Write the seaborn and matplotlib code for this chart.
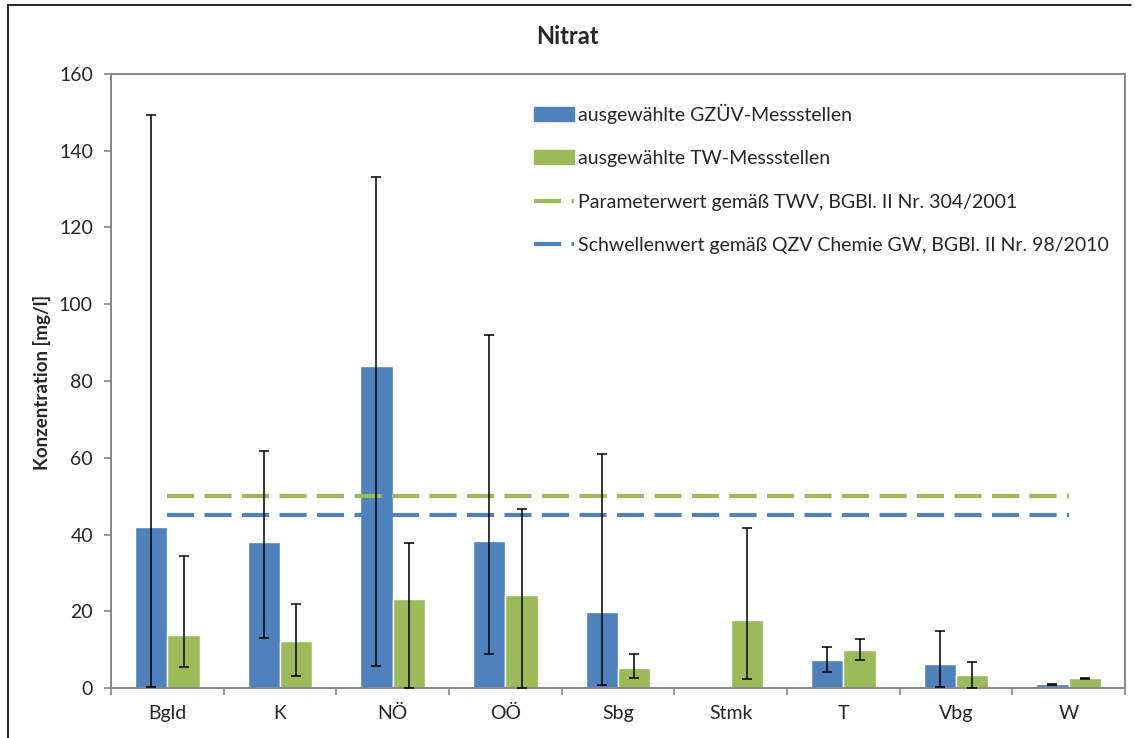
import matplotlib
matplotlib.use("Agg")
import matplotlib.pyplot as plt
import matplotlib.patches as mpatches
from matplotlib.lines import Line2D
import seaborn as sns
import numpy as np
import pandas as pd

sns.set_theme(style="white")
plt.rcParams['font.family'] = ['Lato', 'DejaVu Sans']

# data
laender = ["Bgld", "K", "NÖ", "OÖ", "Sbg", "Stmk", "T", "Vbg", "W"]
gzuev = [41.9, 38.1, 83.9, 38.2, 19.7, 0.0, 7.4, 6.2, 1.0]
gzuev_lo = [0.2, 13.0, 5.8, 8.8, 0.9, np.nan, 4.2, 0.3, 0.9]
gzuev_hi = [149.2, 61.8, 133.2, 92.1, 61.1, np.nan, 10.8, 14.9, 1.1]
tw = [13.7, 12.2, 23.3, 24.3, 5.2, 17.6, 9.8, 3.4, 2.5]
tw_lo = [5.4, 3.1, 0.0, 0.0, 2.7, 2.4, 7.2, 0.0, 2.4]
tw_hi = [34.5, 21.8, 37.8, 46.6, 8.8, 41.7, 12.7, 6.9, 2.6]
parameterwert = 50
schwellenwert = 45

serien = ["ausgewählte GZÜV-Messstellen", "ausgewählte TW-Messstellen"]
linien = ["Parameterwert gemäß TWV, BGBl. II Nr. 304/2001",
          "Schwellenwert gemäß QZV Chemie GW, BGBl. II Nr. 98/2010"]

BLUE = "#4F81BD"
GREEN = "#9BBB59"
GREY = "#868686"

df = pd.DataFrame({
    "Land": laender * 2,
    "Wert": gzuev + tw,
    "Serie": [serien[0]] * len(laender) + [serien[1]] * len(laender),
})

fig = plt.figure(figsize=(11.35, 7.38), dpi=100)
ax = fig.add_axes([111 / 1135, 1 - 688 / 738, (1125 - 111) / 1135, (688 - 74) / 738])

sns.barplot(data=df, x="Land", y="Wert", hue="Serie", order=laender,
            hue_order=serien, palette=[BLUE, GREEN], saturation=1,
            width=0.574, legend=False, ax=ax, zorder=2)

# limit lines across the category centres
ax.plot(laender, [parameterwert] * len(laender), color=GREEN, lw=3,
        dashes=(6.5, 2.5), zorder=3)
ax.plot(laender, [schwellenwert] * len(laender), color=BLUE, lw=3,
        dashes=(6.5, 2.5), zorder=3)

# asymmetric min/max error bars
for cont, vals, lo, hi in zip(ax.containers, [gzuev, tw], [gzuev_lo, tw_lo], [gzuev_hi, tw_hi]):
    xs, ys, el, eh = [], [], [], []
    for p, v, l, h in zip(cont.patches, vals, lo, hi):
        if np.isnan(l):
            continue
        xs.append(p.get_x() + p.get_width() / 2)
        ys.append(v)
        el.append(v - l)
        eh.append(h - v)
    ax.errorbar(xs, ys, yerr=[el, eh], fmt="none", ecolor="black",
                elinewidth=1.1, capsize=3.5, capthick=1.1, zorder=4)

ax.set_ylim(0, 160)
ax.set_xlim(-0.5, len(laender) - 0.5)
ax.set_yticks(range(0, 161, 20))
ax.set_xticks(np.arange(-0.5, len(laender)), minor=True)
ax.tick_params(axis="x", which="major", length=0, pad=12, labelsize=14)
ax.tick_params(axis="x", which="minor", length=5, width=1.2, color=GREY, direction="out", bottom=True)
ax.tick_params(axis="y", length=5, width=1.2, color=GREY, direction="out", left=True, pad=8, labelsize=14)
ax.set_xlabel("")
ax.set_ylabel("")
for s in ax.spines.values():
    s.set_visible(True)
    s.set_color(GREY)
    s.set_linewidth(1.4)
ax.grid(False)

fig.text(0.5, 1 - 37 / 738, "Nitrat", ha="center", va="center",
         fontsize=17, fontweight="bold")
fig.text(42 / 1135, 1 - 382 / 738, "Konzentration [mg/l]", rotation=90,
         ha="center", va="center", fontsize=13.5, fontweight="bold")

handles = [
    mpatches.Patch(color=BLUE, label=serien[0]),
    mpatches.Patch(color=GREEN, label=serien[1]),
    Line2D([], [], color=GREEN, lw=3, dashes=(6.5, 2.5), label=linien[0]),
    Line2D([], [], color=BLUE, lw=3, dashes=(6.5, 2.5), label=linien[1]),
]
leg = fig.legend(handles=handles, loc="upper left",
                 bbox_to_anchor=(516 / 1135, 1 - 86 / 738), frameon=False,
                 fontsize=14, labelspacing=1.36, handlelength=2.1,
                 handleheight=0.7, handletextpad=0.2)

# outer chart border (top and left visible)
fig.add_artist(Line2D([8 / 1135, 8 / 1135], [0, 1 - 5 / 738], color="black", lw=1.2))
fig.add_artist(Line2D([8 / 1135, 1131 / 1135], [1 - 5 / 738, 1 - 5 / 738], color="black", lw=1.2))

fig.savefig("out.png", dpi=100)
